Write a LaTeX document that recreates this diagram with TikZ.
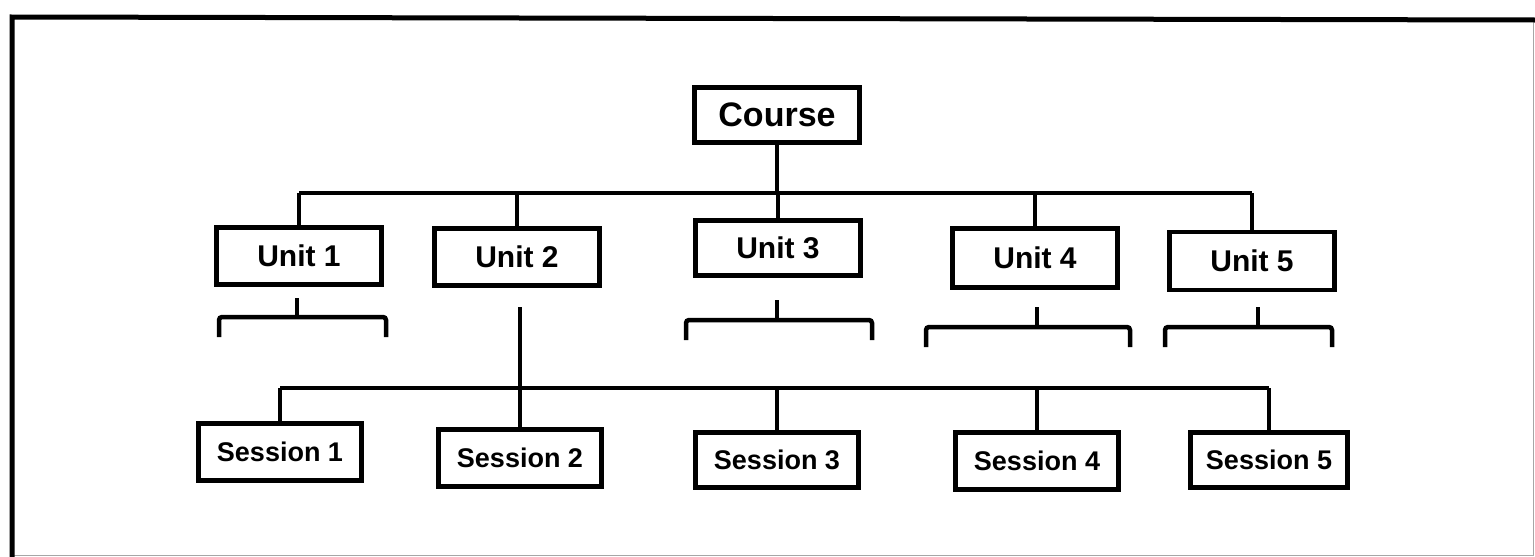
\documentclass[tikz,border=0pt]{standalone}
\usepackage{fontspec}
\setmainfont{Liberation Sans}
\begin{document}
\begin{tikzpicture}[x=1pt,y=-1pt,
  box/.style={draw, line width=4.5pt, inner sep=0pt, font=\bfseries},
  coursebox/.style={box, minimum width=165pt, minimum height=55pt, font=\bfseries\fontsize{34}{38}\selectfont},
  unitbox/.style={box, minimum width=165pt, minimum height=57pt, font=\bfseries\fontsize{30}{36}\selectfont},
  sessbox/.style={box, minimum width=163pt, minimum height=57pt, font=\bfseries\fontsize{27}{32}\selectfont},
  link/.style={line width=4.5pt},
  brk/.style={line width=4.5pt, rounded corners=3pt},
  frame/.style={line width=5pt},
  thinframe/.style={line width=1pt, black!35}
]
\useasboundingbox (0,0) rectangle (1535,557);
% frame
\draw[thinframe] (1533,20) -- (1533,555) -- (12,555);
\draw[frame] (12,557) -- (12,17) -- (1535,20);

% nodes
\node[coursebox] (course) at (777,115) {Course};
\node[unitbox] (u1) at (299,256) {Unit 1};
\node[unitbox] (u2) at (517,257) {Unit 2};
\node[unitbox, minimum height=55pt] (u3) at (778,248) {Unit 3};
\node[unitbox, minimum height=59pt] (u4) at (1035,258) {Unit 4};
\node[unitbox, minimum height=58pt] (u5) at (1252,261) {Unit 5};
\node[sessbox] (s1) at (280,452) {Session 1};
\node[sessbox] (s2) at (520,458) {Session 2};
\node[sessbox, minimum height=55pt] (s3) at (777,460) {Session 3};
\node[sessbox] (s4) at (1037,461) {Session 4};
\node[sessbox, minimum width=157pt, minimum height=55pt] (s5) at (1269,460) {Session 5};

% top bus
\coordinate (b0) at (777,193);
\coordinate (b1) at (u1.north |- b0);
\coordinate (b5) at (u5.north |- b0);
\draw[link] (course.south) -- (b0);
\draw[link] (b1) -- (b5);
\draw[link] (b1) -- (u1.north);
\draw[link] (u2.north |- b0) -- (u2.north);
\draw[link] (u3.north |- b0) -- (u3.north);
\draw[link] (u4.north |- b0) -- (u4.north);
\draw[link] (b5) -- (u5.north);

% brackets under units
\coordinate (k1) at (297,298);
\draw[link] (k1) -- ++(0,19);
\draw[brk] (219,337) -- (219,317) -- (386,317) -- (386,337);
\coordinate (k3) at (777,300);
\draw[link] (k3) -- ++(0,20);
\draw[brk] (686,340) -- (686,320) -- (872,320) -- (872,340);
\coordinate (k4) at (1037,307);
\draw[link] (k4) -- ++(0,20);
\draw[brk] (926,347) -- (926,327) -- (1130,327) -- (1130,347);
\coordinate (k5) at (1258,307);
\draw[link] (k5) -- ++(0,20);
\draw[brk] (1165,347) -- (1165,327) -- (1332,327) -- (1332,347);

% session bus
\coordinate (u2d) at (520,307);
\draw[link] (u2d) -- (s2.north);
\coordinate (sb0) at (280,388);
\coordinate (sb5) at (s5.north |- sb0);
\draw[link] (sb0) -- (sb5);
\draw[link] (sb0) -- (s1.north);
\draw[link] (s3.north |- sb0) -- (s3.north);
\draw[link] (s4.north |- sb0) -- (s4.north);
\draw[link] (sb5) -- (s5.north);
\end{tikzpicture}
\end{document}
